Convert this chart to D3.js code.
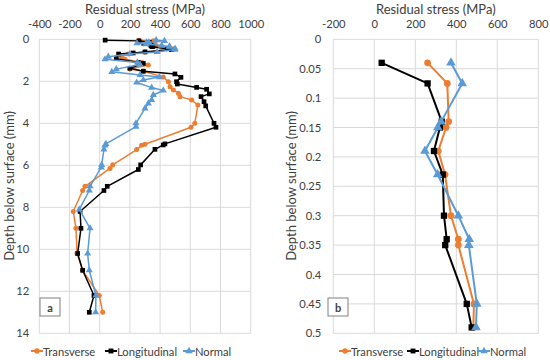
<!DOCTYPE html>
<html><head><meta charset="utf-8">
<script src="https://cdn.jsdelivr.net/npm/d3@7"></script>
<style>body{margin:0;background:#fff}svg{display:block}text{font-family:Lato,"Open Sans",sans-serif;fill:#404040}</style>
</head><body>
<svg id="c" width="550" height="360"></svg>
<script>
// depth (mm) and residual stress (MPa) per series
const transDepth = [0.04,0.075,0.14,0.15,0.19,0.23,0.3,0.34,0.35,0.45,0.49,0.6,0.7,0.83,0.95,1.1,1.22,1.42,1.52,1.8,2.02,2.26,2.41,2.57,2.73,2.89,3.13,4.0,4.19,5.0,5.05,5.25,5.98,6.15,7.0,7.2,8.2,9.0,10.2,11.0,12.2,13.0];
const transStress = [260,356,363,350,312,345,374,410,410,486,483,300,189,145,168,280,322,200,290,421,455,466,488,521,532,609,650,630,605,300,278,245,86,68,-97,-113,-175,-157,-150,-113,-3,20];
const longDepth = [0.04,0.075,0.14,0.15,0.19,0.23,0.3,0.34,0.35,0.45,0.49,0.6,0.65,0.7,0.92,1.1,1.15,1.38,1.52,1.65,1.81,2.02,2.13,2.29,2.38,2.6,2.73,2.97,3.17,4.0,4.19,4.98,5.03,5.24,5.98,6.2,7.0,7.2,8.2,9.0,10.2,11.0,12.2,13.0];
const longStress = [36,260,329,320,291,334,340,353,346,451,475,300,222,125,110,256,289,200,289,498,538,509,514,642,708,726,671,691,702,757,770,432,421,366,271,256,50,28,-130,-124,-146,-113,-38,-69];
const normDepth = [0.04,0.075,0.14,0.15,0.19,0.23,0.3,0.34,0.35,0.45,0.49,0.6,0.7,0.83,0.95,1.1,1.2,1.42,1.55,1.7,1.8,1.94,2.06,2.3,2.44,2.65,2.89,3.05,3.29,4.0,4.16,4.98,5.05,5.25,5.98,6.1,7.0,7.2,8.1,9.0,10.2,11.0,12.2,13.0];
const normStress = [374,429,326,310,247,309,410,463,461,500,496,380,200,57,35,250,267,110,80,267,395,289,245,344,421,355,344,322,300,240,240,41,35,28,13,10,-64,-69,-135,-64,-80,-69,-25,-27];
const seriesNames = ["Transverse","Longitudinal","Normal"];
const xTicksA = [-400,-200,0,200,400,600,800,1000];
const yTicksA = [0,2,4,6,8,10,12,14];
const xTicksB = [-200,0,200,400,600,800];
const yTicksB = [0,0.05,0.1,0.15,0.2,0.25,0.3,0.35,0.4,0.45,0.5];
const panelLabels = ["a","b"];

const colors = ["#ED7D31","#000000","#5B9BD5"];
const series = [
  {name:seriesNames[0], d:transDepth, v:transStress, sym:d3.symbolCircle},
  {name:seriesNames[1], d:longDepth, v:longStress, sym:d3.symbolSquare},
  {name:seriesNames[2], d:normDepth, v:normStress, sym:d3.symbolTriangle}
];
const svg = d3.select("#c");
const fmt = d => String(+d.toFixed(2));

function panel(o){
  const x = d3.scaleLinear().domain(o.xd).range(o.xr);
  const y = d3.scaleLinear().domain(o.yd).range([39.3,333.3]);
  const g = svg.append("g");
  g.selectAll(".vg").data(o.xt).join("line")
    .attr("x1",d=>x(d)).attr("x2",d=>x(d)).attr("y1",y.range()[0]).attr("y2",y.range()[1])
    .attr("stroke","#d9d9d9").attr("stroke-width",1);
  g.selectAll(".hg").data(o.yt).join("line")
    .attr("x1",o.xr[0]).attr("x2",o.xr[1]).attr("y1",d=>y(d)).attr("y2",d=>y(d))
    .attr("stroke","#d9d9d9").attr("stroke-width",1);
  const xa = g.append("g").attr("transform",`translate(0,${y.range()[0]-6})`)
    .call(d3.axisTop(x).tickValues(o.xt).tickSize(0).tickPadding(5).tickFormat(fmt));
  xa.select(".domain").remove();
  xa.selectAll("text").attr("font-size",11.2).attr("fill","#404040").attr("font-family","Lato");
  const ya = g.append("g").attr("transform",`translate(${o.xr[0]},0)`)
    .call(d3.axisLeft(y).tickValues(o.yt).tickSize(0).tickPadding(o.yp).tickFormat(fmt));
  ya.select(".domain").remove();
  ya.selectAll("text").attr("font-size",11.2).attr("fill","#404040").attr("font-family","Lato");
  g.append("text").attr("x",(o.xr[0]+o.xr[1])/2).attr("y",14).attr("text-anchor","middle")
    .attr("font-size",13).text("Residual stress (MPa)");
  g.append("text").attr("transform",`translate(${o.ytx},186) rotate(-90)`).attr("text-anchor","middle")
    .attr("dominant-baseline","central").attr("font-size",13).text("Depth below surface (mm)");
  series.forEach((s,i)=>{
    const pts = s.d.map((d,j)=>[s.v[j],d]).filter(p=>p[1]<=o.yd[1]);
    g.append("path").datum(pts).attr("fill","none").attr("stroke",colors[i]).attr("stroke-width",o.lw)
      .attr("stroke-linejoin","round")
      .attr("d",d3.line().x(p=>x(p[0])).y(p=>y(p[1])));
    g.selectAll(".m"+i).data(pts).join("path")
      .attr("transform",p=>`translate(${x(p[0])},${y(p[1])})`)
      .attr("d",d3.symbol().type(s.sym).size(i===0?o.ms*0.9:o.ms))
      .attr("fill",colors[i]);
  });
  g.append("rect").attr("x",o.bx).attr("y",298).attr("width",20).attr("height",18)
    .attr("fill","#fff").attr("stroke","#808080").attr("stroke-width",1);
  g.append("text").attr("x",o.bx+10).attr("y",307).attr("text-anchor","middle").attr("dominant-baseline","central")
    .attr("font-size",11).attr("font-weight","bold").attr("fill","#000").text(o.label);
  o.lg.forEach((lx,i)=>{
    g.append("line").attr("x1",lx).attr("x2",lx+12).attr("y1",351).attr("y2",351)
      .attr("stroke",colors[i]).attr("stroke-width",2);
    g.append("path").attr("transform",`translate(${lx+6},351)`)
      .attr("d",d3.symbol().type(series[i].sym).size(i===0?22:24)).attr("fill",colors[i]);
    g.append("text").attr("x",lx+12).attr("y",351).attr("dominant-baseline","central")
      .attr("font-size",11.2).text(seriesNames[i]);
  });
}

panel({xd:[-400,1000], xr:[39.3,250.7], yd:[0,14], xt:xTicksA, yt:yTicksA, yp:10,
  ytx:9, lw:1.5, ms:22, bx:40, label:panelLabels[0], lg:[31,105,183]});
panel({xd:[-200,800], xr:[333.3,538.3], yd:[0,0.5], xt:xTicksB, yt:yTicksB, yp:12,
  ytx:291, lw:2, ms:40, bx:328, label:panelLabels[1], lg:[339,407,478]});
</script>
</body></html>
